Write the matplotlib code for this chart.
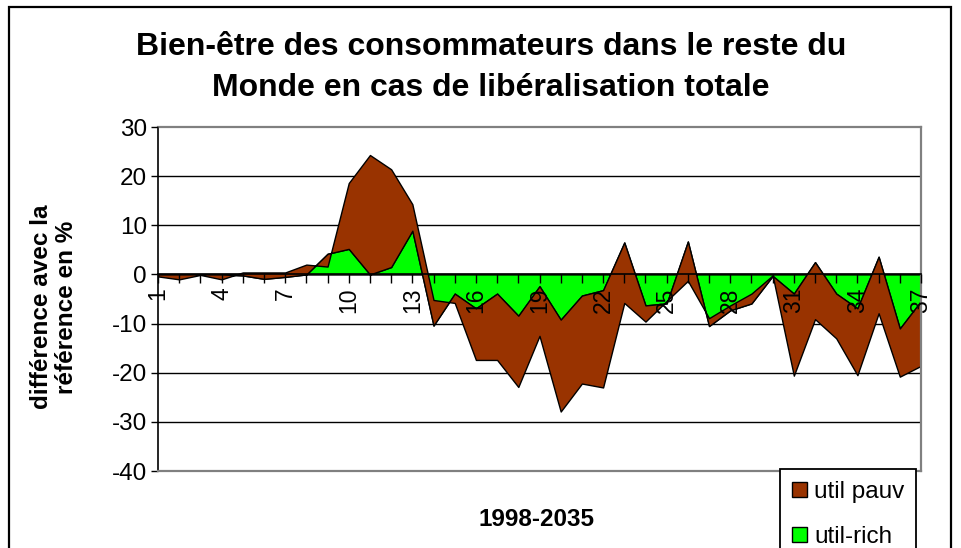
import numpy as np
import matplotlib
matplotlib.use("Agg")
import matplotlib.pyplot as plt
from matplotlib.patches import Rectangle

plt.rcParams['font.family'] = ['Liberation Sans', 'DejaVu Sans']

# ---------------- data ----------------
title_lines = ["Bien-être des consommateurs dans le reste du",
               "Monde en cas de libéralisation totale"]
y_label = "différence avec la\nréférence en %"
x_label = "1998-2035"
series_names = ["util pauv", "util-rich"]

categories = list(range(1, 38))
xtick_labels = [1, 4, 7, 10, 13, 16, 19, 22, 25, 28, 31, 34, 37]
yticks = [30, 20, 10, 0, -10, -20, -30, -40]

# stacked area: util-rich first (from 0), util pauv stacked on it
util_rich = [0.0, 0.0, 0.0, 0.0, -0.2, -0.9, -0.5, 0.0, 4.2, 5.2,
             0.0, 1.5, 8.9, -10.4, -3.9, -6.9, -3.9, -8.4, -2.4, -9.2,
             -4.3, -3.2, 6.5, -6.3, -5.9, 6.7, -10.5, -7.3, -5.9, -0.3,
             -3.9, 2.5, -3.9, -6.9, 3.6, -11.0, -5.4]
util_pauv = [-0.4, -1.0, -0.1, -1.0, 0.6, 1.3, 0.9, 2.0, -2.6, 13.4,
             24.3, 19.9, 5.4, 5.2, -1.9, -10.5, -13.5, -14.5, -10.1, -18.7,
             -17.9, -19.8, -12.3, -3.3, 0.5, -8.0, 1.6, 1.0, 2.0, 0.1,
             -16.7, -11.6, -9.1, -13.6, -11.5, -9.8, -13.2]

brown = "#993300"
green = "#00FF00"

# ---------------- figure ----------------
W, H = 961, 548
fig = plt.figure(figsize=(W / 100, H / 100), dpi=100)
fig.patch.set_facecolor("white")

L, R, T, B = 158, 921, 127, 471
ax = fig.add_axes([L / W, 1 - B / H, (R - L) / W, (B - T) / H])
ax.set_xlim(1, 37)
ax.set_ylim(-40, 30)

for y in yticks[1:-1]:
    ax.axhline(y, color="black", lw=1.0, zorder=0.5)

polys = ax.stackplot(categories, util_rich, util_pauv,
                     colors=[green, brown], edgecolor="black",
                     linewidth=1.0, zorder=1)

# plot-area frame
for s in ["top", "right"]:
    ax.spines[s].set_color("#808080")
    ax.spines[s].set_linewidth(1.6)
ax.axhline(-40, color="#808080", lw=1.6, zorder=3, clip_on=False)
ax.spines["bottom"].set_position(("data", 0))
ax.spines["bottom"].set_color("black")
ax.spines["bottom"].set_linewidth(1.2)
ax.spines["left"].set_color("black")
ax.spines["left"].set_linewidth(1.2)
ax.set_axisbelow(False)

ax.set_xticks(categories)
ax.set_xticklabels([str(c) if c in xtick_labels else "" for c in categories],
                   rotation=90)
ax.tick_params(axis="x", direction="out", length=6.5, width=1.0, pad=3,
               labelsize=16.5, colors="black")
ax.set_yticks(yticks)
ax.set_yticklabels([str(v) for v in yticks])
ax.tick_params(axis="y", direction="out", length=5, width=1.0, pad=3,
               labelsize=17.5, colors="black")

# texts
fig.text(491 / W, 1 - 47 / H, title_lines[0], ha="center", va="center",
         fontsize=23, fontweight="bold")
fig.text(491 / W, 1 - 88 / H, title_lines[1], ha="center", va="center",
         fontsize=23, fontweight="bold")
fig.text(54 / W, 1 - 307 / H, y_label, rotation=90, ha="center", va="center",
         fontsize=17.5, fontweight="bold", multialignment="center", linespacing=1.1)
fig.text(537 / W, 1 - 520 / H, x_label, ha="center", va="center",
         fontsize=17.5, fontweight="bold")

leg = ax.legend(handles=[polys[1], polys[0]], labels=series_names,
                loc="upper left", bbox_to_anchor=(780 / W, 1 - 469 / H),
                bbox_transform=fig.transFigure, frameon=True, fancybox=False,
                edgecolor="black", framealpha=1, fontsize=17.5,
                handlelength=0.6, handleheight=0.6, handletextpad=0.3,
                borderpad=0.5, labelspacing=0.95, borderaxespad=0)
leg.get_frame().set_linewidth(1.3)
leg.set_zorder(10)

# outer chart border
fig.add_artist(Rectangle((9 / W, -0.1), (951 - 9) / W, 1 - 7 / H + 0.1,
                         transform=fig.transFigure, fill=False,
                         ec="black", lw=1.6))

fig.savefig("out.png", dpi=100)
